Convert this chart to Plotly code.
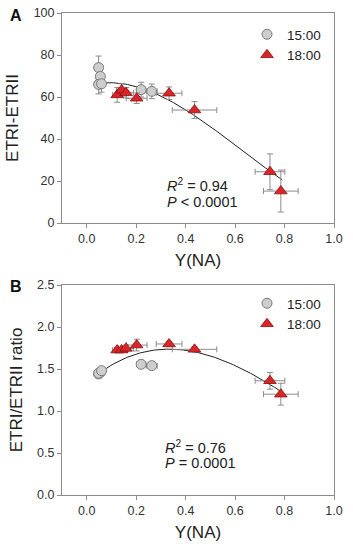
import numpy as np
import plotly.graph_objects as go

# ---- data ----
x_15 = [0.048, 0.055, 0.048, 0.060, 0.220, 0.263]
x_15_err = [0.005, 0.005, 0.005, 0.006, 0.018, 0.022]
x_18 = [0.123, 0.141, 0.159, 0.202, 0.333, 0.436, 0.741, 0.785]
x_18_err = [0.018, 0.02, 0.03, 0.042, 0.052, 0.09, 0.06, 0.07]

etr_diff_15 = [74.0, 69.8, 66.0, 66.3, 63.5, 62.7]
etr_diff_15_err = [5.5, 4.0, 4.5, 4.0, 3.5, 3.5]
etr_diff_18 = [61.0, 63.3, 62.0, 59.4, 61.8, 53.8, 24.4, 15.2]
etr_diff_18_err = [3.5, 3.0, 2.5, 2.5, 3.0, 4.0, 8.5, 10.0]

ratio_15 = [1.44, 1.46, 1.45, 1.48, 1.556, 1.54]
ratio_15_err = [0.02, 0.02, 0.02, 0.02, 0.02, 0.02]
ratio_18 = [1.725, 1.726, 1.745, 1.785, 1.798, 1.734, 1.36, 1.20]
ratio_18_err = [0.03, 0.03, 0.04, 0.07, 0.03, 0.03, 0.10, 0.13]

# fitted regression curves
fit_a_x = [0.053, 0.148, 0.256, 0.337, 0.419, 0.500, 0.581, 0.663, 0.744, 0.791]
fit_a_y = [66.8, 65.7, 63.0, 58.6, 52.2, 45.9, 38.7, 31.6, 24.4, 20.5]
fit_b_x = [0.053, 0.120, 0.215, 0.324, 0.419, 0.500, 0.581, 0.663, 0.744, 0.785]
fit_b_y = [1.468, 1.567, 1.679, 1.738, 1.734, 1.667, 1.548, 1.429, 1.330, 1.230]

x_ticks = [0.0, 0.2, 0.4, 0.6, 0.8, 1.0]
stats_a = ["<i>R</i><sup>2</sup> = 0.94", "<i>P</i> < 0.0001"]
stats_b = ["<i>R</i><sup>2</sup> = 0.76", "<i>P</i> = 0.0001"]

FONT = "Liberation Sans, Arial, sans-serif"
GRAY_FILL = "#cdcdcd"
GRAY_LINE = "#7a7a7a"
RED_FILL = "#d8262a"
RED_LINE = "#8a1010"
ERR_COL = "#8c8c8c"
AX_COL = "#8c8c8c"

W, H = 353, 550
ML, MR, MT, MB = 62, 19, 13, 55
PW = W - ML - MR
PH = H - MT - MB

def py(page_y):
    return (H - MB - page_y) / PH

def px(page_x):
    return (page_x - ML) / PW

fig = go.Figure()

def smooth(fx, fy):
    c = np.polyfit(fx, fy, 3)
    xs = np.linspace(fx[0], fx[-1], 120)
    return xs, np.polyval(c, xs)

def add_panel(xa, ya, y15, y15e, y18, y18e, fx, fy, legend):
    sx, sy = smooth(fx, fy)
    fig.add_trace(go.Scatter(x=sx, y=sy, mode="lines",
                             line=dict(color="#222222", width=1), showlegend=False,
                             xaxis=xa, yaxis=ya, hoverinfo="skip"))
    fig.add_trace(go.Scatter(x=x_15, y=y15, mode="markers", name="15:00",
                             marker=dict(symbol="circle", size=10, color=GRAY_FILL,
                                         line=dict(color=GRAY_LINE, width=1)),
                             error_x=dict(type="data", array=x_15_err, color=ERR_COL, thickness=1, width=3),
                             error_y=dict(type="data", array=y15e, color=ERR_COL, thickness=1, width=3),
                             xaxis=xa, yaxis=ya, showlegend=False))
    fig.add_trace(go.Scatter(x=x_18, y=y18, mode="markers", name="18:00",
                             marker=dict(symbol="triangle-up", size=11, color=RED_FILL,
                                         line=dict(color=RED_LINE, width=0.8)),
                             error_x=dict(type="data", array=x_18_err, color=ERR_COL, thickness=1, width=3),
                             error_y=dict(type="data", array=y18e, color=ERR_COL, thickness=1, width=3),
                             xaxis=xa, yaxis=ya, showlegend=False))
    fig.add_trace(go.Scatter(x=[None], y=[None], mode="markers", name="15:00",
                             marker=dict(symbol="circle", size=10, color=GRAY_FILL,
                                         line=dict(color=GRAY_LINE, width=1)),
                             xaxis=xa, yaxis=ya, legend=legend))
    fig.add_trace(go.Scatter(x=[None], y=[None], mode="markers", name="18:00",
                             marker=dict(symbol="triangle-up", size=11, color=RED_FILL,
                                         line=dict(color=RED_LINE, width=0.8)),
                             xaxis=xa, yaxis=ya, legend=legend))

add_panel("x", "y", etr_diff_15, etr_diff_15_err, etr_diff_18, etr_diff_18_err,
          fit_a_x, fit_a_y, "legend")
add_panel("x2", "y2", ratio_15, ratio_15_err, ratio_18, ratio_18_err,
          fit_b_x, fit_b_y, "legend2")

axis_common = dict(showline=True, linecolor=AX_COL, linewidth=1, mirror=True,
                   ticks="outside", ticklen=4, tickcolor=AX_COL, showgrid=False,
                   zeroline=False, automargin=False, ticklabeloverflow="allow",
                   tickfont=dict(size=12.5, color="#333333", family=FONT))

top_a = py(13)
bot_a = py(223)
top_b = py(285)
bot_b = py(495)

fig.update_layout(
    width=W, height=H,
    margin=dict(l=ML, r=MR, t=MT, b=MB, autoexpand=False),
    plot_bgcolor="white", paper_bgcolor="white",
    font=dict(family=FONT, color="#222222"),
    xaxis=dict(domain=[0, 1], range=[-0.1, 1.0], tickvals=x_ticks, tickformat=".1f",
               anchor="y", title=dict(text="Y(NA)", font=dict(size=17), standoff=9), **axis_common),
    yaxis=dict(domain=[bot_a, top_a], range=[0, 100], dtick=20, anchor="x",
               title=dict(text="ETRI-ETRII", font=dict(size=17), standoff=10), **axis_common),
    xaxis2=dict(domain=[0, 1], range=[-0.1, 1.0], tickvals=x_ticks, tickformat=".1f",
                anchor="y2", title=dict(text="Y(NA)", font=dict(size=17), standoff=9), **axis_common),
    yaxis2=dict(domain=[bot_b, top_b], range=[0, 2.5], dtick=0.5, tickformat=".1f", anchor="x2",
                title=dict(text="ETRI/ETRII ratio", font=dict(size=17), standoff=10), **axis_common),
    legend=dict(x=px(247), y=py(19), xanchor="left", yanchor="top", bgcolor="rgba(0,0,0,0)",
                font=dict(size=13.5), tracegroupgap=0, itemsizing="trace"),
    legend2=dict(x=px(247), y=py(288), xanchor="left", yanchor="top", bgcolor="rgba(0,0,0,0)",
                 font=dict(size=13.5), tracegroupgap=0, itemsizing="trace"),
)

ann = []
for t, yv in zip(stats_a, [18.2, 10.2]):
    ann.append(dict(x=0.315, y=yv, xref="x", yref="y", text=t, showarrow=False,
                    xanchor="left", yanchor="middle", font=dict(size=14.5, color="#222222")))
for t, yv in zip(stats_b, [0.575, 0.385]):
    ann.append(dict(x=0.31, y=yv, xref="x2", yref="y2", text=t, showarrow=False,
                    xanchor="left", yanchor="middle", font=dict(size=14.5, color="#222222")))
ann.append(dict(x=px(15.5), y=py(16), xref="paper", yref="paper", text="<b>A</b>", showarrow=False,
                xanchor="center", yanchor="middle", font=dict(size=16, color="#111111")))
ann.append(dict(x=px(15.5), y=py(286), xref="paper", yref="paper", text="<b>B</b>", showarrow=False,
                xanchor="center", yanchor="middle", font=dict(size=16, color="#111111")))
fig.update_layout(annotations=ann)

# remove the default 8px page margin so the figure fills the window exactly
fig.write_html("out.html", config={"displayModeBar": False},
               post_script="document.body.style.margin='0';document.body.style.overflow='hidden';")
